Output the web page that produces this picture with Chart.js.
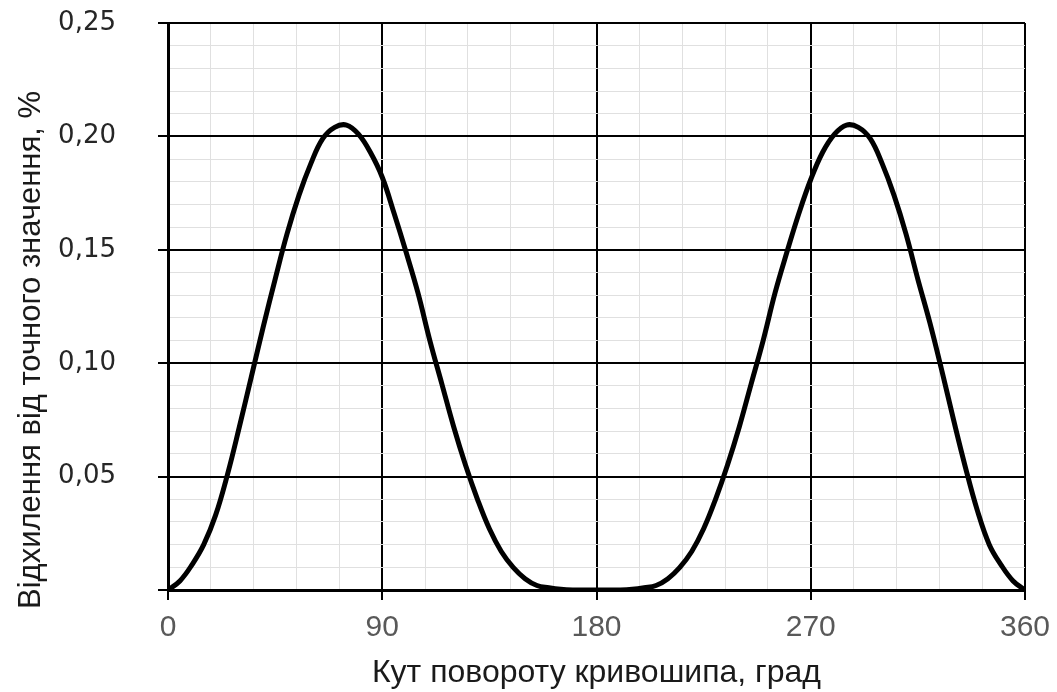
<!DOCTYPE html>
<html>
<head>
<meta charset="utf-8">
<title>Відхилення від точного значення</title>
<script src="https://cdn.jsdelivr.net/npm/chart.js@4.4.1/dist/chart.umd.min.js"></script>
<style>
	body { margin: 0; background: #fff; }
	#wrap { width: 1057px; height: 692px; position: relative; }
</style>
</head>
<body>
<div id="wrap"><canvas id="mycanvas"></canvas></div>
<script>
// кут повороту кривошипа, град
var angles = [0, 5, 10, 15, 20, 25, 30, 35, 40, 45, 50, 55, 60, 65, 70, 75, 80, 85, 90,
	95, 100, 105, 110, 115, 120, 125, 130, 135, 140, 145, 150, 155, 160, 165, 170, 175, 180,
	185, 190, 195, 200, 205, 210, 215, 220, 225, 230, 235, 240, 245, 250, 255, 260, 265, 270,
	275, 280, 285, 290, 295, 300, 305, 310, 315, 320, 325, 330, 335, 340, 345, 350, 355, 360];

// відхилення, %
var deviation = [0, 0.004, 0.011, 0.020, 0.033, 0.051, 0.072, 0.094, 0.116, 0.137, 0.157, 0.174, 0.188, 0.199, 0.204, 0.205, 0.201, 0.193, 0.182,
	0.166, 0.149, 0.131, 0.110, 0.091, 0.072, 0.055, 0.040, 0.027, 0.017, 0.010, 0.005, 0.002, 0.001, 0.0003, 0, 0, 0,
	0, 0, 0.0003, 0.001, 0.002, 0.005, 0.010, 0.017, 0.027, 0.040, 0.055, 0.072, 0.091, 0.110, 0.131, 0.149, 0.166, 0.181,
	0.193, 0.201, 0.205, 0.204, 0.199, 0.188, 0.174, 0.157, 0.137, 0.118, 0.097, 0.075, 0.054, 0.035, 0.020, 0.011, 0.004, 0];

var xTicks = [0, 90, 180, 270, 360];
var yTicks = [0.05, 0.10, 0.15, 0.20, 0.25];

var xTitle = 'Кут повороту кривошипа, град';
var yTitle = 'Відхилення від точного значення, %';

var points = [];
for (var i in angles) {
	points.push({x: angles[i], y: deviation[i]});
}

function isMajorX(v) {
	return xTicks.indexOf(Math.round(v)) >= 0;
}
function isMajorY(v) {
	var r = Math.round(v * 100) / 100;
	return r === 0 || yTicks.indexOf(r) >= 0;
}

// y-axis title drawn by hand so it can sit where the original has it
var yTitlePlugin = {
	id: 'yTitle',
	afterDraw: function(chart) {
		var c = chart.ctx;
		c.save();
		c.translate(31, 350);
		c.rotate(-Math.PI / 2);
		c.font = '31px "Liberation Sans", Arial, sans-serif';
		c.fillStyle = '#1a1a1a';
		c.textAlign = 'center';
		c.textBaseline = 'middle';
		c.fillText(yTitle, 0, 0);
		c.restore();
	}
};

var ctx = document.getElementById('mycanvas');

var chart = new Chart(ctx, {
	type: 'line',
	data: {
		datasets: [
			{
				label: 'відхилення',
				data: points,
				borderColor: '#000',
				borderWidth: 5,
				pointRadius: 0,
				fill: false,
				tension: 0.4
			}
		]
	},
	options: {
		responsive: true,
		maintainAspectRatio: false,
		animation: false,
		devicePixelRatio: 1,
		layout: { padding: { left: 0, top: 23, right: 32, bottom: 0 } },
		plugins: {
			legend: { display: false },
			tooltip: { enabled: false }
		},
		scales: {
			x: {
				type: 'linear',
				min: 0,
				max: 360,
				afterFit: function(scale) {
					scale.height = 102;
					scale.paddingLeft = 0;
					scale.paddingRight = 0;
				},
				ticks: {
					stepSize: 18,
					autoSkip: false,
					maxRotation: 0,
					padding: 10,
					color: '#595959',
					font: { family: '"Liberation Sans", Arial, sans-serif', size: 30 },
					callback: function(v) { return isMajorX(v) ? String(Math.round(v)) : ''; }
				},
				grid: {
					color: function(c) { return isMajorX(c.tick.value) ? '#000' : '#e0e0e0'; },
					lineWidth: function(c) { return isMajorX(c.tick.value) ? 2 : 1; },
					tickColor: function(c) { return isMajorX(c.tick.value) ? '#000' : 'rgba(0,0,0,0)'; },
					tickLength: 10,
					tickWidth: 2
				},
				border: { color: '#000', width: 3 },
				title: {
					display: true,
					text: xTitle,
					color: '#1a1a1a',
					font: { family: '"Liberation Sans", Arial, sans-serif', size: 32 },
					padding: { top: 0, bottom: 0 }
				}
			},
			y: {
				min: 0,
				max: 0.25,
				afterFit: function(scale) {
					scale.width = 168;
					scale.paddingTop = 0;
					scale.paddingBottom = 0;
				},
				ticks: {
					stepSize: 0.01,
					autoSkip: false,
					padding: 42,
					color: '#262626',
					font: { family: '"DejaVu Sans", Verdana, sans-serif', size: 26 },
					callback: function(v) {
						var r = Math.round(v * 100) / 100;
						if (r === 0 || !isMajorY(v)) return '';
						return r.toFixed(2).replace('.', ',');
					}
				},
				grid: {
					color: function(c) { return isMajorY(c.tick.value) ? '#000' : '#e0e0e0'; },
					lineWidth: function(c) { return isMajorY(c.tick.value) ? 2 : 1; },
					tickColor: function(c) { return isMajorY(c.tick.value) ? '#000' : 'rgba(0,0,0,0)'; },
					tickLength: 10,
					tickWidth: 2
				},
				border: { color: '#000', width: 3 }
			}
		}
	},
	plugins: [yTitlePlugin]
});
</script>
</body>
</html>
